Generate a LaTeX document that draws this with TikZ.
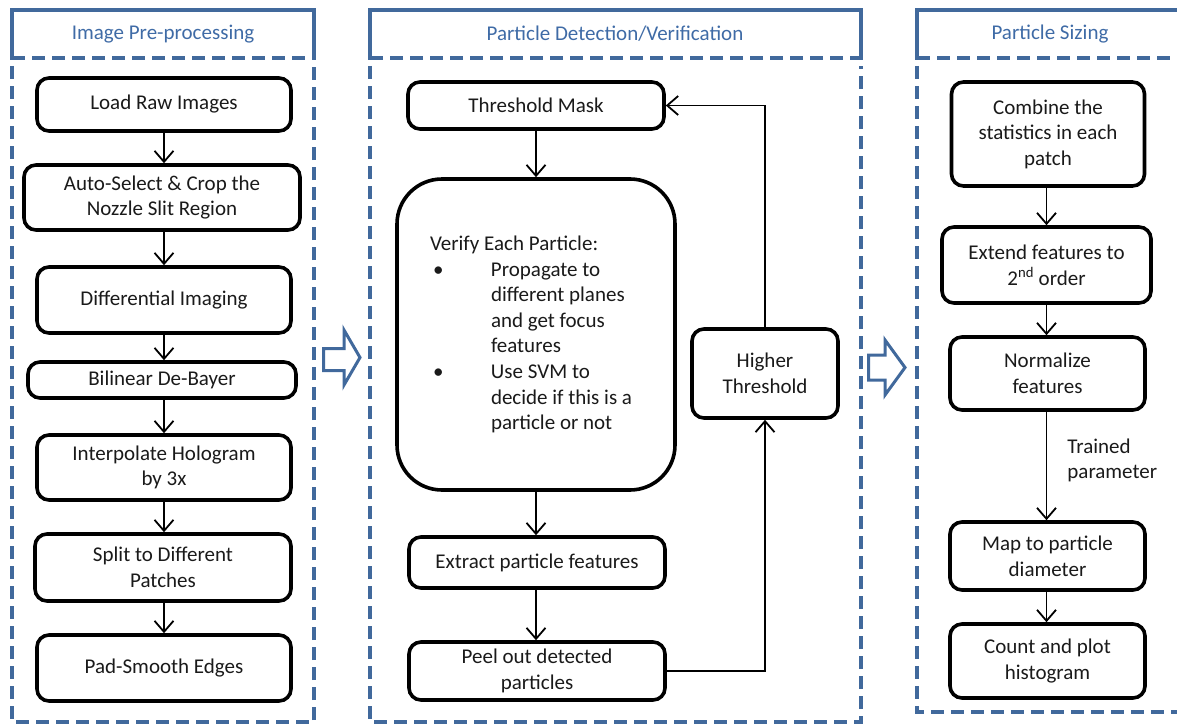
\documentclass[tikz,border=0pt]{standalone}
\usepackage{fontspec}
\setmainfont{Carlito}
\usetikzlibrary{arrows.meta}
\definecolor{frameblue}{HTML}{41699C}
\definecolor{titleblue}{HTML}{3F6BA6}
\definecolor{ink}{HTML}{1A1A1A}
\begin{document}
\begin{tikzpicture}[x=1pt,y=-1pt,
  every node/.style={font=\fontsize{21}{25.6}\selectfont, text=ink},
  procbox/.style={draw=black, line width=3.6pt, rounded corners=12pt, fill=white, align=center, inner sep=2pt},
  conn/.style={draw=black, line width=1.8pt, -{Straight Barb[length=11pt,width=19pt]}},
  frameline/.style={draw=frameblue, line width=4pt},
  framedash/.style={draw=frameblue, line width=4pt, dash pattern=on 13pt off 7pt},
  hollow/.style={draw=frameblue, line width=3pt, fill=white, line join=miter},
  paneltitle/.style={text=titleblue, inner sep=0pt}
]
\useasboundingbox (0,0) rectangle (1177,725);

% ---------- panel frames ----------
\draw[frameline] (12,60) -- (12,10) -- (314,10) -- (314,60);
\draw[framedash] (12,58) -- (314,58);
\draw[framedash] (12,66) -- (12,722) -- (314,722) -- (314,66);

\draw[frameline] (370,60) -- (370,10) -- (861,10) -- (861,60);
\draw[framedash] (370,58) -- (861,58);
\draw[framedash] (370,66) -- (370,722) -- (861,722) -- (861,66);

\draw[frameline] (917,60) -- (917,10) -- (1177,10);
\draw[framedash] (917,58) -- (1177,58);
\draw[framedash] (917,66) -- (917,712) -- (1177,712);

\node[paneltitle] (t1) at (163,34) {Image Pre-processing};
\node[paneltitle] (t2) at (615,34) {Particle Detection/Verification};
\node[paneltitle] (t3) at (1050,34) {Particle Sizing};

% ---------- hollow arrows between panels ----------
\draw[hollow] (323.5,348.5) -- (344,348.5) -- (344,330) -- (360,357.5) -- (344,385) -- (344,370.5) -- (323.5,370.5) -- cycle;
\draw[hollow] (868.5,355) -- (885,355) -- (885,340) -- (905,367.5) -- (885,395) -- (885,380) -- (868.5,380) -- cycle;

% ---------- panel 1 ----------
\node[procbox, minimum width=254pt, minimum height=53pt] (load) at (164,104.5) {Load Raw Images};
\node[procbox, minimum width=276pt, minimum height=65pt] (crop) at (162,197.5) {Auto-Select \& Crop the\\Nozzle Slit Region};
\node[procbox, minimum width=254pt, minimum height=66pt] (diff) at (164,300) {Differential Imaging};
\node[procbox, minimum width=268pt, minimum height=36pt] (bayer) at (162,380) {Bilinear De-Bayer};
\node[procbox, minimum width=254pt, minimum height=65pt] (interp) at (164,467.5) {Interpolate Hologram\\by 3x};
\node[procbox, minimum width=256pt, minimum height=67pt] (split) at (163,567.5) {Split to Different\\Patches};
\node[procbox, minimum width=254pt, minimum height=66pt] (pad) at (164,668) {Pad-Smooth Edges};

\draw[conn] (load.south) -- (load.south |- crop.north);
\draw[conn] (load.south |- crop.south) -- (load.south |- diff.north);
\draw[conn] (diff.south) -- (diff.south |- bayer.north);
\draw[conn] (diff.south |- bayer.south) -- (diff.south |- interp.north);
\draw[conn] (interp.south) -- (interp.south |- split.north);
\draw[conn] (interp.south |- split.south) -- (interp.south |- pad.north);

% ---------- panel 2 ----------
\node[procbox, minimum width=256pt, minimum height=47pt] (thr) at (536,105.5) {Threshold Mask};
\node[procbox, rounded corners=45pt, minimum width=278pt, minimum height=311pt] (verify) at (536,334.5)
  {\parbox{212pt}{\raggedright
   Verify Each Particle:\\
   \makebox[61pt][l]{\hspace{3pt}\textbullet}Propagate to\\
   \hspace*{61pt}different planes\\
   \hspace*{61pt}and get focus\\
   \hspace*{61pt}features\\
   \makebox[61pt][l]{\hspace{3pt}\textbullet}Use SVM to\\
   \hspace*{61pt}decide if this is a\\
   \hspace*{61pt}particle or not}};
\node[procbox, minimum width=256pt, minimum height=51pt] (extract) at (537,562.5) {Extract particle features};
\node[procbox, minimum width=256pt, minimum height=58pt] (peel) at (537,671) {Peel out detected\\particles};
\node[procbox, minimum width=146pt, minimum height=89pt] (higher) at (765,373.5) {Higher\\Threshold};

\draw[conn] (verify.north |- thr.south) -- (verify.north);
\draw[conn] (verify.south) -- (verify.south |- extract.north);
\draw[conn] (verify.south |- extract.south) -- (verify.south |- peel.north);
\draw[conn] (peel.east) -| (higher.south);
\draw[conn] (higher.north) |- (thr.east);

% ---------- panel 3 ----------
\node[procbox, minimum width=193pt, minimum height=104pt] (combine) at (1048,134) {Combine the\\statistics in each\\patch};
\node[procbox, minimum width=209pt, minimum height=76pt] (extend) at (1046.5,265) {Extend features to\\2\textsuperscript{nd} order};
\node[procbox, minimum width=195pt, minimum height=73pt] (norm) at (1047.5,373.5) {Normalize\\features};
\node[procbox, minimum width=195pt, minimum height=68pt] (map) at (1047.5,556) {Map to particle\\diameter};
\node[procbox, minimum width=195pt, minimum height=74pt] (count) at (1047.5,661) {Count and plot\\histogram};

\draw[conn] (extend.north |- combine.south) -- (extend.north);
\draw[conn] (extend.south) -- (extend.south |- norm.north);
\draw[conn] (extend.south |- norm.south) -- node[pos=0.45, anchor=west, align=left, inner sep=0pt, xshift=20pt] (trained) {Trained\\parameter} (extend.south |- map.north);
\draw[conn] (extend.south |- map.south) -- (extend.south |- count.north);
\end{tikzpicture}
\end{document}
